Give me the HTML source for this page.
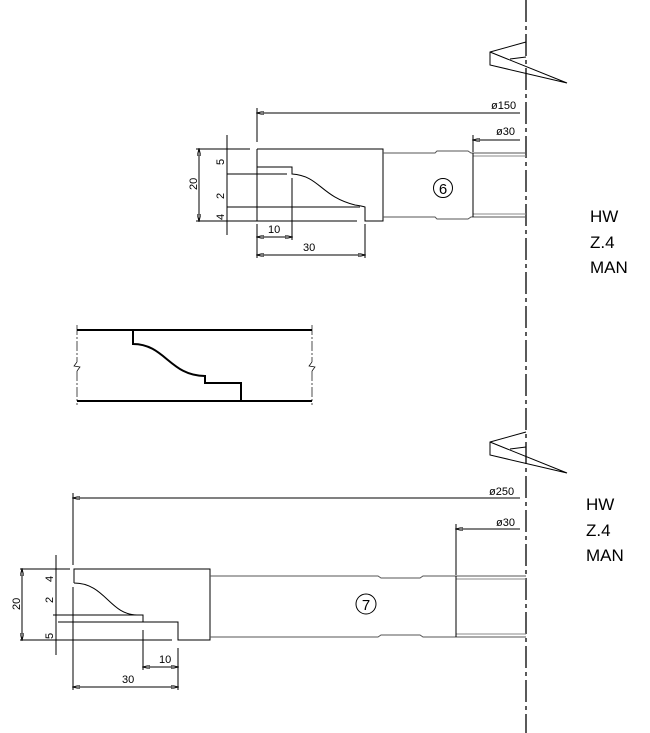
<!DOCTYPE html>
<html><head><style>body{margin:0;background:#fff}svg{display:block}text{font-family:"Liberation Sans",sans-serif;fill:#000}</style></head><body>
<svg width="650" height="733" viewBox="0 0 650 733" xmlns="http://www.w3.org/2000/svg">
<defs><marker id="a" markerWidth="8" markerHeight="4" refX="7" refY="2" orient="auto-start-reverse"><path d="M0,0 L8,2 L0,4z" fill="none" stroke="#000" stroke-width="0.6"/></marker></defs>
<g stroke="#000" fill="none" stroke-width="1">
<line x1="526" y1="0" x2="526" y2="733" stroke-dasharray="22,4,4,4" stroke-width="1.3"/>
<path d="M526,42 L490,52 L490,65 L567,83 L490,52 M510,59 L526,57"/>
<path d="M526,432 L490,442 L490,455 L567,473 L490,442 M510,449 L526,447"/>
<line x1="257" y1="113" x2="520" y2="113" marker-start="url(#a)"/>
<line x1="257" y1="108" x2="257" y2="142"/>
<line x1="473" y1="140" x2="520" y2="140" marker-start="url(#a)"/>
<line x1="473" y1="135" x2="473" y2="152"/>
<path d="M257,149 L383,149 L383,221 L365,221 L365,207 Q362,206 355,205 C320,196 320,176 292,174 L292,167 L257,167"/>
<line x1="257" y1="149" x2="257" y2="221"/>
<line x1="227" y1="174" x2="287" y2="174"/>
<line x1="227" y1="207" x2="360" y2="207"/>
<line x1="196" y1="221" x2="357" y2="221"/>
<line x1="196" y1="149" x2="250" y2="149"/>
<path d="M383,153 L435,153 L437,151 L468,151 L471,153 L526,153 M383,217 L435,217 L437,219 L468,219 L471,217 L526,217" stroke="#555"/>
<path d="M473,156 L526,156 M473,214 L526,214" stroke="#888"/>
<line x1="473" y1="153" x2="473" y2="217"/>
<circle cx="443" cy="188" r="9.5"/>
<line x1="199" y1="149" x2="199" y2="221" marker-start="url(#a)" marker-end="url(#a)"/>
<line x1="227" y1="135" x2="227" y2="235"/>
<line x1="257" y1="237" x2="292" y2="237" marker-start="url(#a)" marker-end="url(#a)"/>
<line x1="257" y1="255" x2="365" y2="255" marker-start="url(#a)" marker-end="url(#a)"/>
<line x1="257" y1="224" x2="257" y2="258"/>
<line x1="292" y1="178" x2="292" y2="240"/>
<line x1="365" y1="224" x2="365" y2="258"/>
<path d="M77,330 L312,330 M77,401 L312,401 M133,330 L133,344 C165,344 170,376 205,376 L205,383 L241,383 L241,401" stroke-width="2"/>
<path d="M77,325 V362 M77,371 V405 M312,325 V362 M312,371 V405" stroke-dasharray="10,2,2,2" stroke-width="0.7"/>
<path d="M77,362 L74,366 L80,367 L77,371 M312,362 L309,366 L315,367 L312,371" stroke-width="0.7"/>
<line x1="73" y1="498" x2="520" y2="498" marker-start="url(#a)"/>
<line x1="73" y1="493" x2="73" y2="565"/>
<line x1="456" y1="529" x2="520" y2="529" marker-start="url(#a)"/>
<line x1="456" y1="524" x2="456" y2="575"/>
<path d="M74,583 L74,569 L210,569 L210,640 L178,640 L178,622 L58,622 M74,583 C105,583 110,615 137,615 L143,615 L143,622 M143,615 L53,615"/>
<line x1="20" y1="569" x2="70" y2="569"/>
<line x1="20" y1="640" x2="172" y2="640"/>
<line x1="73" y1="587" x2="73" y2="690"/>
<path d="M210,576 L378,576 L381,578 L420,578 L423,576 L526,576 M210,637 L378,637 L381,635 L420,635 L423,637 L526,637" stroke="#555"/>
<path d="M456,579 L526,579 M456,634 L526,634" stroke="#888"/>
<line x1="456" y1="576" x2="456" y2="637"/>
<circle cx="366" cy="604" r="10"/>
<line x1="22" y1="569" x2="22" y2="640" marker-start="url(#a)" marker-end="url(#a)"/>
<line x1="56" y1="555" x2="56" y2="655"/>
<line x1="143" y1="667" x2="178" y2="667" marker-start="url(#a)" marker-end="url(#a)"/>
<line x1="73" y1="687" x2="178" y2="687" marker-start="url(#a)" marker-end="url(#a)"/>
<line x1="143" y1="630" x2="143" y2="670"/>
<line x1="178" y1="648" x2="178" y2="690"/>
</g>
<g font-size="11">
<text x="491" y="109">ø150</text>
<text x="496" y="135">ø30</text>
<text x="489" y="495">ø250</text>
<text x="496" y="526">ø30</text>
<text x="268" y="233">10</text>
<text x="303" y="251">30</text>
<text x="159" y="663">10</text>
<text x="122" y="683">30</text>
<text transform="translate(197,190) rotate(-90)">20</text>
<text transform="translate(224,165) rotate(-90)">5</text>
<text transform="translate(224,199) rotate(-90)">2</text>
<text transform="translate(224,220) rotate(-90)">4</text>
<text transform="translate(20,610) rotate(-90)">20</text>
<text transform="translate(53,582) rotate(-90)">4</text>
<text transform="translate(53,603) rotate(-90)">2</text>
<text transform="translate(53,639) rotate(-90)">5</text>
</g>
<text x="443" y="194" font-size="15" text-anchor="middle">6</text>
<text x="366" y="610" font-size="15" text-anchor="middle">7</text>
<g font-size="17">
<text x="590" y="222">HW</text><text x="590" y="248">Z.4</text><text x="590" y="273">MAN</text>
<text x="586" y="510">HW</text><text x="586" y="536">Z.4</text><text x="586" y="561">MAN</text>
</g>
</svg>
</body></html>
